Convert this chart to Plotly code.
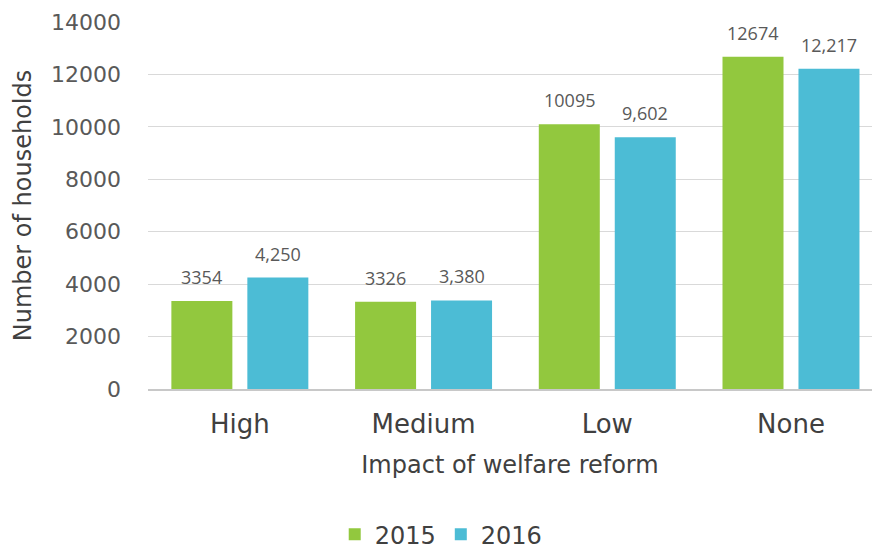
import plotly.graph_objects as go

categories = ["High", "Medium", "Low", "None"]
values_2015 = [3354, 3326, 10095, 12674]
values_2016 = [4250, 3380, 9602, 12217]
labels_2015 = ["3354", "3326", "10095", "12674"]
labels_2016 = ["4,250", "3,380", "9,602", "12,217"]
y_ticks = [0, 2000, 4000, 6000, 8000, 10000, 12000, 14000]

GREEN = "#92C83E"
BLUE = "#4CBCD5"
TEXT = "#595959"
DARK = "#404040"
FONT = "DejaVu Sans"

fig = go.Figure()
fig.add_trace(go.Bar(name="2015", x=categories, y=values_2015, marker=dict(color=GREEN, line=dict(width=0))))
fig.add_trace(go.Bar(name="2016", x=categories, y=values_2016, marker=dict(color=BLUE, line=dict(width=0))))

annotations = []
for cat, v, t in zip(categories, values_2015, labels_2015):
    annotations.append(dict(x=cat, y=v, text=t, xref="x", yref="y", showarrow=False,
                            xanchor="center", yanchor="bottom", xshift=-38, yshift=10,
                            font=dict(family="Open Sans", size=18, color=TEXT)))
for cat, v, t in zip(categories, values_2016, labels_2016):
    annotations.append(dict(x=cat, y=v, text=t, xref="x", yref="y", showarrow=False,
                            xanchor="center", yanchor="bottom", xshift=38, yshift=10,
                            font=dict(family="Open Sans", size=18, color=TEXT)))

fig.update_layout(
    width=872, height=549,
    margin=dict(l=148, r=0, t=22, b=160, autoexpand=False),
    paper_bgcolor="white", plot_bgcolor="white",
    barmode="group", bargap=0.173, bargroupgap=0.197,
    font=dict(family=FONT, color=TEXT),
    showlegend=True,
    legend=dict(orientation="h", x=0.405, y=0.026, xref="paper", yref="container",
                xanchor="center", yanchor="middle",
                font=dict(family=FONT, size=24, color=DARK), itemwidth=30,
                traceorder="normal"),
    annotations=annotations,
)
fig.update_xaxes(
    range=[-0.5, 3.441], showgrid=False, showline=True, linecolor="#C8C8C8", linewidth=1.5,
    ticks="", ticklabelstandoff=11, tickfont=dict(family=FONT, size=26, color=DARK),
    title=dict(text="Impact of welfare reform", font=dict(family=FONT, size=24, color=DARK), standoff=18),
)
fig.update_yaxes(
    range=[0, 14000], tickvals=y_ticks, ticktext=[str(t) for t in y_ticks],
    showgrid=True, gridcolor="#D9D9D9", gridwidth=1, zeroline=False, showline=False,
    ticks="", ticklabelstandoff=26, tickfont=dict(family=FONT, size=22, color=TEXT),
    title=dict(text="Number of households", font=dict(family=FONT, size=24, color=DARK), standoff=12),
)

fig.write_html("out.html")
